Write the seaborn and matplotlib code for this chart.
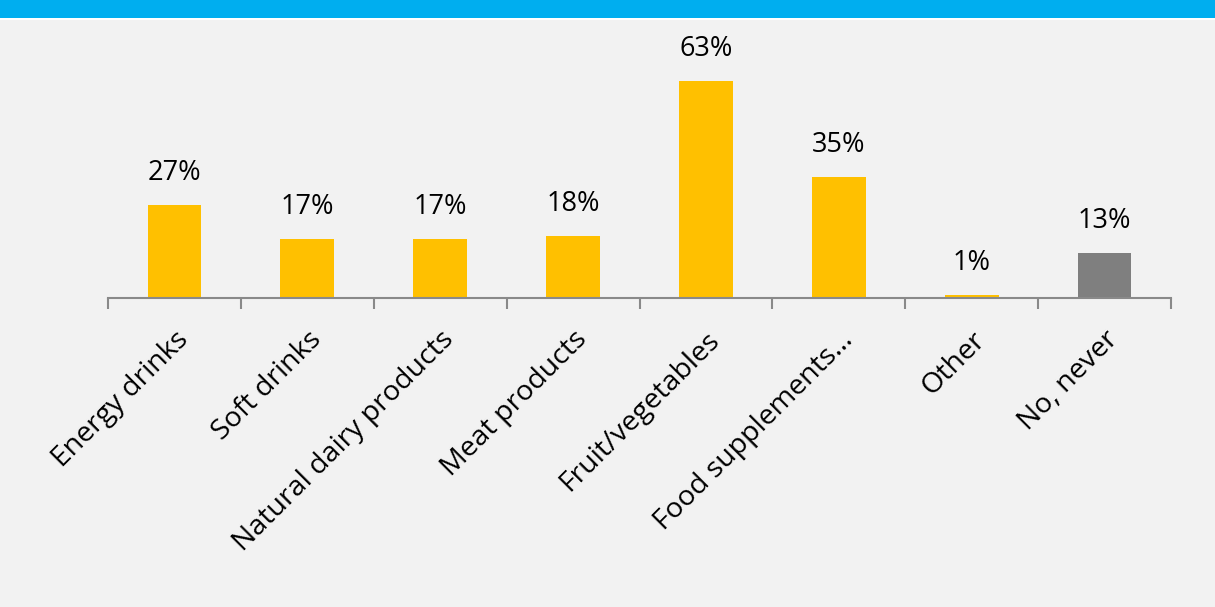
import matplotlib
matplotlib.use("Agg")
import matplotlib.pyplot as plt
import matplotlib.transforms as mtransforms
import seaborn as sns
import pandas as pd
from matplotlib.patches import Rectangle
from matplotlib.ticker import FixedLocator

categories = ["Energy drinks", "Soft drinks", "Natural dairy products", "Meat products",
              "Fruit/vegetables", "Food supplements…", "Other", "No, never"]
values = [27, 17, 17, 18, 63, 35, 1, 13]
labels = ["27%", "17%", "17%", "18%", "63%", "35%", "1%", "13%"]
colors = ["#FFC000"] * 7 + ["#7F7F7F"]

sns.set_theme(style="white")
plt.rcParams['font.family'] = ['Open Sans', 'DejaVu Sans']

W, H = 1215, 607
fig = plt.figure(figsize=(W / 100, H / 100), dpi=100, facecolor="#F2F2F2")
# header band
fig.patches.append(Rectangle((0, 1 - 18 / H), 1, 18 / H, transform=fig.transFigure,
                             facecolor="#00AEEF", edgecolor="none", zorder=0))
fig.patches.append(Rectangle((0, 1 - 20 / H), 1, 2 / H, transform=fig.transFigure,
                             facecolor="white", edgecolor="none", zorder=0))

left, right, bottom_px, top_px = 108, 1171, 298, 30
ax = fig.add_axes([left / W, 1 - bottom_px / H, (right - left) / W, (bottom_px - top_px) / H])
ax.set_facecolor("none")

df = pd.DataFrame({"cat": categories, "val": values})
sns.barplot(data=df, x="cat", y="val", hue="cat", palette=colors, legend=False,
            width=0.405, saturation=1, linewidth=0, ax=ax)

ppu = (298 - 81) / 63.0
ax.set_ylim(0, (bottom_px - top_px) / ppu)
ax.set_xlim(-0.5, len(categories) - 0.5)

for i, (v, t) in enumerate(zip(values, labels)):
    ax.annotate(t, (i, v), xytext=(0, 13), textcoords="offset points",
                ha="center", va="bottom", fontsize=19.5, color="#000000")

for s in ["top", "right", "left"]:
    ax.spines[s].set_visible(False)
ax.spines["bottom"].set_color("#898989")
ax.spines["bottom"].set_linewidth(1.5)
ax.set_yticks([])
ax.set_xlabel("")
ax.set_ylabel("")
ax.set_xticks(range(len(categories)))
ax.set_xticklabels(categories, rotation=45, ha="right", rotation_mode="anchor",
                   fontsize=20.5, color="#000000")
shift = mtransforms.ScaledTranslation(-6 / 100, 0, fig.dpi_scale_trans)
for lbl in ax.get_xticklabels():
    lbl.set_transform(lbl.get_transform() + shift)
ax.tick_params(axis="x", which="major", length=0, pad=20)
ax.xaxis.set_minor_locator(FixedLocator([i - 0.5 for i in range(len(categories) + 1)]))
ax.tick_params(axis="x", which="minor", length=8, width=1.5, color="#898989", bottom=True)

fig.savefig("out.png", dpi=100, facecolor=fig.get_facecolor())
